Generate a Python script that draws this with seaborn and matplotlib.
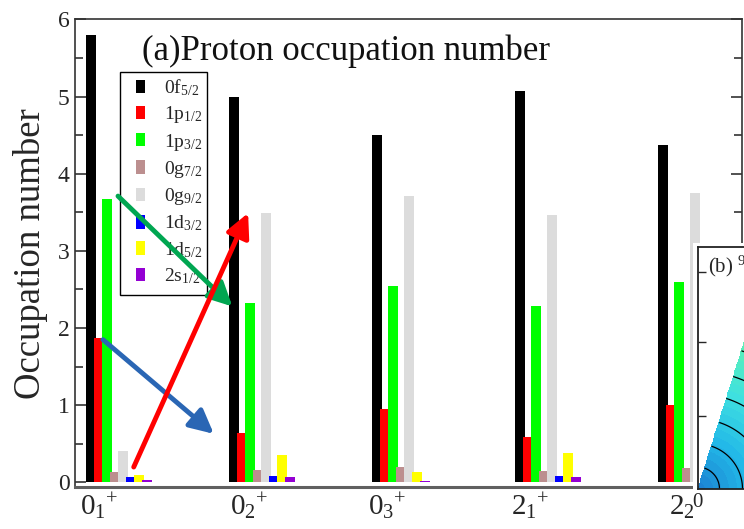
import numpy as np
import pandas as pd
import matplotlib
matplotlib.use("Agg")
import matplotlib.pyplot as plt
import seaborn as sns
from matplotlib.colors import LinearSegmentedColormap
from matplotlib.patches import Rectangle

# ---- data -----------------------------------------------------------------
states = ["0_1", "0_2", "0_3", "2_1", "2_2"]
state_labels = [r"$0_1{}^{+}$", r"$0_2{}^{+}$", r"$0_3{}^{+}$",
                r"$2_1{}^{+}$", r"$2_2{}^{+}$"]
orbitals = [r"$\mathrm{0f_{5/2}}$", r"$\mathrm{1p_{1/2}}$", r"$\mathrm{1p_{3/2}}$",
            r"$\mathrm{0g_{7/2}}$", r"$\mathrm{0g_{9/2}}$", r"$\mathrm{1d_{3/2}}$",
            r"$\mathrm{1d_{5/2}}$", r"$\mathrm{2s_{1/2}}$"]
orbital_colors = ["#000000", "#ff0000", "#00ff00", "#bc8f8f",
                  "#dcdcdc", "#0000ff", "#ffff00", "#9400d3"]

occ_0f52 = [5.80, 4.99, 4.50, 5.07, 4.37]
occ_1p12 = [1.87, 0.64, 0.95, 0.59, 1.00]
occ_1p32 = [3.67, 2.32, 2.55, 2.29, 2.60]
occ_0g72 = [0.14, 0.16, 0.20, 0.15, 0.19]
occ_0g92 = [0.41, 3.49, 3.71, 3.46, 3.75]
occ_1d32 = [0.07, 0.08, 0.00, 0.08, 0.08]
occ_1d52 = [0.10, 0.36, 0.13, 0.38, 0.36]
occ_2s12 = [0.03, 0.07, 0.02, 0.07, 0.07]
occupations = [occ_0f52, occ_1p12, occ_1p32, occ_0g72,
               occ_0g92, occ_1d32, occ_1d52, occ_2s12]

# arrows between states: (start, end) in data units
arrow_green = ((0.00, 3.71), (0.80, 2.28))
arrow_blue = ((-0.105, 1.85), (0.67, 0.63))
arrow_red = ((0.11, 0.20), (0.91, 3.49))

# contour levels of the (b) panel, in pixels from its origin
pes_line_levels = [22, 45, 70, 95, 118, 145]

rows = []
for orb, vals in zip(orbitals, occupations):
    for st, v in zip(states, vals):
        rows.append({"state": st, "orbital": orb, "occupation": v})
df = pd.DataFrame(rows)

# ---- style ------------------------------------------------------------------
sns.set_style("ticks")
plt.rcParams["font.family"] = ["Liberation Serif", "DejaVu Serif"]
plt.rcParams["mathtext.fontset"] = "custom"
plt.rcParams["mathtext.rm"] = "Liberation Serif"
plt.rcParams["mathtext.it"] = "Liberation Serif:italic"
plt.rcParams["mathtext.bf"] = "Liberation Serif:bold"

W, H = 744, 529
fig = plt.figure(figsize=(W / 100, H / 100), dpi=100)
ax = fig.add_axes([75 / W, (H - 486.5) / H, (742 - 75) / W, (486.5 - 19) / H])

step = 0.056
sns.barplot(data=df, x="state", y="occupation", hue="orbital",
            order=states, hue_order=orbitals, palette=orbital_colors,
            width=8 * step, saturation=1, linewidth=0, errorbar=None,
            dodge=True, ax=ax)

# bars slightly wider than their slot so that neighbours overlap
for ci, cont in enumerate(ax.containers):
    for j, bar in enumerate(cont.patches):
        bar.set_width(0.068)
        # in the 0_3+ group the 1d5/2 and 2s1/2 bars move into the empty 1d3/2 slot
        if j == 2 and ci in (6, 7):
            bar.set_x(bar.get_x() - step)

ax.set_xlim(-0.3007, 4.364)
ax.set_ylim(-0.052, 6.004)

label_shift = [-0.13, -0.08, -0.12, -0.115, -0.01]
ax.set_xticks(np.arange(len(states)) + np.array(label_shift))
ax.set_xticklabels(state_labels, fontsize=21)
ax.tick_params(axis="x", length=0, pad=3)

ax.set_yticks(np.arange(0, 7, 1))
ax.set_yticks(np.arange(0.5, 6, 1), minor=True)
ax.tick_params(axis="y", which="both", direction="in", left=True, right=True,
               labelsize=17, width=1.1, color="#222222", pad=4)
ax.tick_params(axis="y", which="major", length=8)
ax.tick_params(axis="y", which="minor", length=5.5)

for side in ["left", "right", "top"]:
    ax.spines[side].set_color("#333333")
    ax.spines[side].set_linewidth(1.2)
ax.spines["bottom"].set_color("#606060")
ax.spines["bottom"].set_linewidth(2.2)

ax.set_xlabel("")
ax.set_ylabel("Occupation number", fontsize=26.5)
ax.yaxis.set_label_coords(-0.0405, 0.498)

ax.text(0.1004, 0.912, "(a)Proton occupation number", transform=ax.transAxes,
        fontsize=25, ha="left", va="baseline", color="#111111")

# legend: boxed list of orbitals
ax.add_patch(Rectangle((0.0675, 0.4096), 0.1304, 0.477, transform=ax.transAxes,
                       facecolor="white", edgecolor="black", linewidth=1.0,
                       zorder=4))
handles, labels = ax.get_legend_handles_labels()
ax.legend(handles, labels, loc="upper left", bbox_to_anchor=(0.0915, 0.8760),
          borderaxespad=0, fontsize=14, handlelength=0.46, handleheight=0.67,
          handletextpad=1.0, labelspacing=0.33, borderpad=0,
          frameon=False)
ax.get_legend().set_zorder(5)

arrow_kw = dict(arrowstyle="-|>,head_length=1.2,head_width=0.6",
                mutation_scale=12, lw=3.5, shrinkA=0, shrinkB=0)
for (start, end), col in [(arrow_green, "#00a651"), (arrow_blue, "#2a66b4"),
                          (arrow_red, "#ff0000")]:
    ax.annotate("", xy=end, xytext=start,
                arrowprops=dict(color=col, **arrow_kw), zorder=6)

# ---- inset (b) -------------------------------------------------------------
fig.patches.append(Rectangle((693 / W, 0), (W - 693) / W, (H - 243) / H,
                             transform=fig.transFigure, facecolor="white",
                             edgecolor="none", zorder=3))
inset_w_px, inset_h_px = 260, 489 - 246.7
ins = fig.add_axes([697.5 / W, (H - 489) / H, inset_w_px / W, inset_h_px / H],
                   zorder=4)
gx = np.linspace(0, inset_w_px, 300)
gy = np.linspace(0, inset_h_px, 300)
GX, GY = np.meshgrid(gx, gy)
R = np.hypot(GX, GY)
TH = np.degrees(np.arctan2(GY, GX))
R = np.ma.masked_where(TH > 72.5, R)
pes_cmap = LinearSegmentedColormap.from_list(
    "pes", ["#1c7fd0", "#22b8e8", "#3fe0e0", "#5af0b8", "#8ef5a0"])
ins.contourf(GX / inset_w_px, GY / inset_h_px, R, levels=np.arange(0, 260, 8),
             cmap=pes_cmap, vmin=0, vmax=200)
ins.contour(GX / inset_w_px, GY / inset_h_px, R, levels=pes_line_levels,
            colors="black", linewidths=0.9)
ins.set_xlim(0, 1)
ins.set_ylim(0, 1)
ins.set_xticks([0])
ins.set_xticklabels(["0"], fontsize=15)
ins.set_yticks([0.301, 0.607, 0.897])
ins.set_yticklabels([])
ins.tick_params(axis="x", length=0, pad=3)
ins.tick_params(axis="y", direction="in", length=6, width=1.0)
for sp in ins.spines.values():
    sp.set_color("#222222")
    sp.set_linewidth(1.3)
ins.text(0.04, 0.917, r"(b) $^{9}$", transform=ins.transAxes, fontsize=15,
         ha="left", va="center")

fig.savefig("out.png", dpi=100)
